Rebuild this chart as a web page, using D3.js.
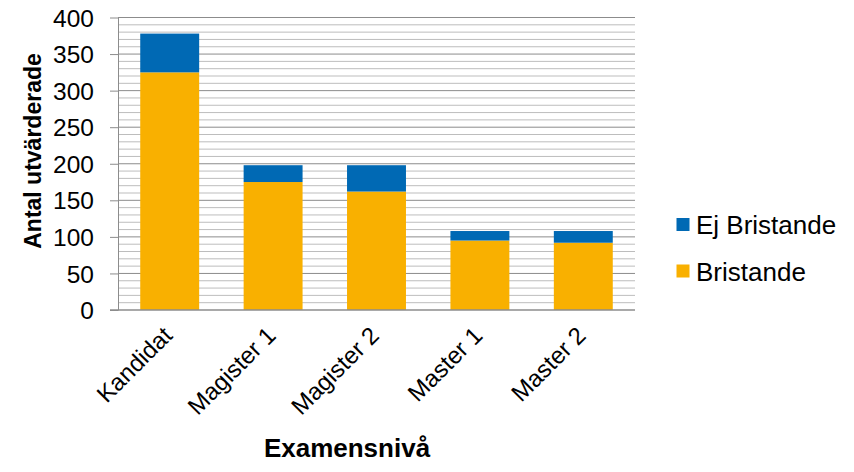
<!DOCTYPE html>
<html><head><meta charset="utf-8">
<script src="https://cdn.jsdelivr.net/npm/d3@7"></script>
<style>body{margin:0;background:#fff;}svg{display:block;font-family:"Liberation Sans",Arial,sans-serif;}</style>
</head><body><svg id="c" width="854" height="472"></svg>
<script>
const categories = ["Kandidat","Magister 1","Magister 2","Master 1","Master 2"];
const bristande = [325,175,162,95,92];
const ejBristande = [53,23,36,13,16];
const seriesNames = ["Ej Bristande","Bristande"];
const yTicks = [0,50,100,150,200,250,300,350,400];

const colors = {"Bristande":"#F9B000","Ej Bristande":"#0069B4"};
const FF = "Liberation Sans, Arial, sans-serif";
const svg = d3.select("#c");
const L=118,R=635,T=17.5,B=310;
const x = d3.scaleBand().domain(categories).range([L,R]).paddingInner(0.43).paddingOuter(0.215);
const y = d3.scaleLinear().domain([0,400]).range([B,T]);

// minor grid
const minor = d3.range(10,400,10).filter(v=>v%50!==0);
svg.append("g").selectAll("line").data(minor).join("line")
  .attr("x1",L).attr("x2",R).attr("y1",d=>y(d)).attr("y2",d=>y(d))
  .attr("stroke","#bdbdbd").attr("stroke-width",1);
svg.append("g").selectAll("line").data(yTicks.filter(v=>v>0)).join("line")
  .attr("x1",L).attr("x2",R).attr("y1",d=>y(d)).attr("y2",d=>y(d))
  .attr("stroke","#8c8c8c").attr("stroke-width",1);

const data = categories.map((c,i)=>({cat:c,"Bristande":bristande[i],"Ej Bristande":ejBristande[i]}));
const stack = d3.stack().keys(["Bristande","Ej Bristande"])(data);
svg.append("g").selectAll("g").data(stack).join("g").attr("fill",d=>colors[d.key])
  .selectAll("rect").data(d=>d).join("rect")
  .attr("x",d=>x(d.data.cat)).attr("width",x.bandwidth())
  .attr("y",d=>y(d[1])).attr("height",d=>y(d[0])-y(d[1]));

// y axis
const ya = svg.append("g").attr("transform",`translate(${L},0)`)
  .call(d3.axisLeft(y).tickValues(yTicks).tickSize(8).tickPadding(16).tickSizeOuter(0));
ya.select(".domain").attr("stroke","#8c8c8c");
ya.selectAll(".tick line").attr("stroke","#8c8c8c");
ya.selectAll("text").attr("font-size",24.5).attr("fill","#000").attr("font-family",FF).attr("dy","0.35em");

// x axis
svg.append("line").attr("x1",L-8).attr("x2",R).attr("y1",B).attr("y2",B).attr("stroke","#8c8c8c").attr("stroke-width",1.5);
svg.append("g").selectAll("text").data(categories).join("text")
  .attr("transform",d=>`translate(${x(d)+x.bandwidth()/2+4},${B+27}) rotate(-45)`)
  .attr("text-anchor","end").attr("font-size",24).attr("fill","#000").text(d=>d);

// axis titles
svg.append("text").attr("x",347).attr("y",457).attr("text-anchor","middle")
  .attr("font-size",26).attr("font-weight","bold").text("Examensnivå");
svg.append("text").attr("transform","translate(41,151) rotate(-90)").attr("text-anchor","middle")
  .attr("font-size",23).attr("font-weight","bold").text("Antal utvärderade");

// legend
const lg = svg.append("g");
seriesNames.forEach((s,i)=>{
  const yy = 218 + i*46.5;
  lg.append("rect").attr("x",676.5).attr("y",yy).attr("width",13).attr("height",13).attr("fill",colors[s]);
  lg.append("text").attr("x",696).attr("y",yy+16.3).attr("font-size",26).attr("fill","#000").text(s);
});
</script></body></html>
